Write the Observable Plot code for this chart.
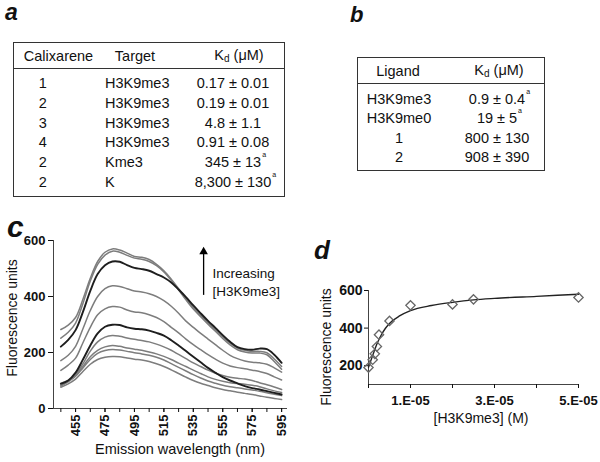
<!DOCTYPE html>
<html>
<head>
<meta charset="utf-8">
<script src="https://cdn.jsdelivr.net/npm/d3@7"></script>
<script src="https://cdn.jsdelivr.net/npm/@observablehq/plot@0.6"></script>
<style>
  html, body { margin: 0; padding: 0; background: #fff; }
  #fig { position: relative; width: 600px; height: 462px; font-family: "Liberation Sans", Arial, sans-serif; color: #111; overflow: hidden; }
  .t { position: absolute; white-space: nowrap; line-height: 1; }
  .box { position: absolute; box-sizing: border-box; border: 1.5px solid #333; }
  .sep { position: absolute; height: 1.5px; background: #333; }
  sub.kd { font-size: 10px; vertical-align: -2px; }
  .note { position: absolute; left: 100%; top: -3px; font-size: 7px; margin-left: 1px; }
</style>
</head>
<body>
<div id="fig"></div>
<script>
// ---------- Table a ----------
const calixarenes = ["1", "2", "3", "4", "2", "2"];
const targets = ["H3K9me3", "H3K9me3", "H3K9me3", "H3K9me3", "Kme3", "K"];
const kdA = ["0.17 ± 0.01", "0.19 ± 0.01", "4.8 ± 1.1", "0.91 ± 0.08", "345 ± 13", "8,300 ± 130"];
const kdANote = [false, false, false, false, true, true];

// ---------- Table b ----------
const ligands = ["H3K9me3", "H3K9me0", "1", "2"];
const kdB = ["0.9 ± 0.4", "19 ± 5", "800 ± 130", "908 ± 390"];
const kdBNote = [true, true, false, false];

// ---------- Panel c: emission spectra ----------
const wavelengths = [445,450,455,460,465,470,475,480,485,490,495,500,505,510,515,520,525,530,535,540,545,550,555,560,565,570,575,580,585,590,595];
const s1  = [282,298,325,390,465,525,558,570,566,555,543,540,532,515,492,462,428,393,360,333,306,281,256,233,216,208,204,204,199,177,150];
const s2  = [251,272,305,375,455,515,548,562,558,547,537,533,525,510,488,458,424,388,355,328,301,276,250,227,210,202,198,198,192,168,140];
const s3  = [221,245,280,345,420,480,512,525,524,512,502,498,492,480,468,450,425,398,368,340,313,288,262,238,219,212,210,214,212,192,163];
const s4  = [171,190,222,285,350,400,428,438,436,428,420,416,410,400,385,365,340,312,290,268,248,228,208,190,178,170,165,163,158,145,130];
const s5  = [136,155,180,235,290,335,356,364,362,352,345,342,335,325,310,290,270,248,228,210,192,176,162,152,146,142,137,132,125,113,102];
const s6  = [88,100,128,175,225,268,292,299,298,290,285,283,278,270,260,244,225,205,185,165,145,128,112,100,90,80,73,68,62,56,50];
const s7  = [82,98,120,160,205,238,255,261,258,252,247,243,238,230,220,208,193,178,163,150,137,126,118,112,108,105,100,92,85,77,68];
const s8  = [90,100,118,150,185,208,220,225,222,216,212,208,202,195,186,175,162,150,137,125,113,104,97,92,89,87,83,78,70,63,57];
const s9  = [80,95,115,145,175,197,207,211,209,204,199,195,190,183,173,160,147,134,121,109,98,90,83,78,74,70,66,62,56,51,46];
const s10 = [76,88,105,132,158,175,183,186,185,180,176,173,168,160,150,138,125,112,100,90,82,74,68,63,58,54,50,45,40,36,32];
const spectraNames = ["s1","s2","s3","s4","s5","s6","s7","s8","s9","s10"];
const spectraValues = [s1, s2, s3, s4, s5, s6, s7, s8, s9, s10];
const darkSpectra = ["s3", "s6"];
const cYTicks = [0, 200, 400, 600];
const cXMinorTicks = [445,455,465,475,485,495,505,515,525,535,545,555,565,575,585,595];
const cXLabelTicks = [455,475,495,515,535,555,575,595];
const annoLines = ["Increasing", "[H3K9me3]"];

// ---------- Panel d: titration ----------
const concM = [0, 1e-6, 1.5e-6, 2e-6, 2.5e-6, 5e-6, 1e-5, 2e-5, 2.5e-5, 5e-5];
const fluor = [190, 232, 263, 302, 365, 438, 521, 526, 553, 563];
const fitConc = [0, 1e-6, 2e-6, 3e-6, 4e-6, 5e-6, 7.5e-6, 1e-5, 1.5e-5, 2e-5, 2.5e-5, 3e-5, 4e-5, 5e-5];
const fitFluor = [192, 255, 315, 362, 398, 425, 466, 493, 520, 537, 550, 558, 569, 580];
const dYTicks = [200, 400, 600];
const dXTicks = [0, 1e-5, 2e-5, 3e-5, 4e-5, 5e-5];
const dXLabelTicks = [1e-5, 3e-5, 5e-5];
const dXLabels = ["1.E-05", "3.E-05", "5.E-05"];

// ---------- helpers ----------
const fig = document.getElementById("fig");
function addText(html, x, y, o = {}) {
  const el = document.createElement("div");
  el.className = "t";
  el.innerHTML = html;
  const size = o.size ?? 14.5;
  el.style.fontSize = size + "px";
  el.style.fontWeight = o.weight ?? "normal";
  el.style.fontStyle = o.style ?? "normal";
  el.style.left = x + "px";
  el.style.top = y + "px";
  const tx = o.anchor === "start" ? "0" : "-50%";
  el.style.transform = `translate(${tx}, -50%)` + (o.rotate ? ` rotate(${o.rotate}deg)` : "");
  fig.appendChild(el);
  return el;
}
function addLetter(ch, left, baseline, size) {
  const el = document.createElement("div");
  el.className = "t";
  el.textContent = ch;
  el.style.lineHeight = "0.75";
  el.style.fontSize = size + "px";
  el.style.fontWeight = "bold";
  el.style.fontStyle = "italic";
  el.style.left = left + "px";
  el.style.top = (baseline - 0.7215 * size) + "px";
  fig.appendChild(el);
}
function addBox(l, t, w, h, sepY) {
  const b = document.createElement("div");
  b.className = "box";
  Object.assign(b.style, {left: l + "px", top: t + "px", width: w + "px", height: h + "px"});
  fig.appendChild(b);
  const s = document.createElement("div");
  s.className = "sep";
  Object.assign(s.style, {left: l + "px", top: sepY + "px", width: w + "px"});
  fig.appendChild(s);
}
const kdHeader = 'K<sub class="kd">d</sub> (μM)';
const withNote = (v, n) => `<span style="position:relative">${v}${n ? '<span class="note">a</span>' : ""}</span>`;

// ---------- draw table a ----------
addBox(13, 42, 272, 155, 67.5);
addText("Calixarene", 58.5, 56);
addText("Target", 135, 56);
addText(kdHeader, 239, 56);
calixarenes.forEach((c, i) => {
  const y = 83.3 + i * 19.7;
  addText(c, 42.7, y);
  addText(targets[i], 105, y, {anchor: "start"});
  addText(withNote(kdA[i], kdANote[i]), 233, y);
});

// ---------- draw table b ----------
addBox(357, 57, 188, 114, 82.5);
addText("Ligand", 398, 71);
addText(kdHeader, 499, 71);
ligands.forEach((l, i) => {
  const y = 99.3 + i * 19.1;
  addText(l, 399, y);
  addText(withNote(kdB[i], kdBNote[i]), 497, y);
});

// ---------- panel c ----------
const rowsC = spectraNames.flatMap((name, k) =>
  wavelengths.map((wl, i) => ({wl, v: spectraValues[k][i], name})));
const arrowX = 542, arrowY1 = 404, arrowY2 = 556;
const plotC = Plot.plot({
  width: 300, height: 237,
  marginLeft: 53, marginRight: 13, marginTop: 15, marginBottom: 54,
  x: {domain: [440, 599]},
  y: {domain: [0, 600]},
  style: {fontFamily: "Liberation Sans, Arial, sans-serif", fontSize: "13px", fontWeight: "bold", color: "#111", background: "transparent", overflow: "visible"},
  marks: [
    Plot.line(rowsC.filter(d => !darkSpectra.includes(d.name)), {x: "wl", y: "v", z: "name", stroke: "#7d7d7d", strokeWidth: 1.5, curve: "catmull-rom"}),
    Plot.line(rowsC.filter(d => darkSpectra.includes(d.name)), {x: "wl", y: "v", z: "name", stroke: "#1e1e1e", strokeWidth: 1.9, curve: "catmull-rom"}),
    Plot.ruleX([440], {stroke: "#444", strokeWidth: 1}),
    Plot.ruleY([0], {stroke: "#444", strokeWidth: 1}),
    Plot.axisY({ticks: cYTicks, tickSize: 5, tickPadding: 3, label: null}),
    Plot.axisX({ticks: cXMinorTicks, tickSize: 4, tickFormat: () => "", label: null}),
    Plot.axisX({ticks: cXLabelTicks, tickSize: 4, tickPadding: 2, tickRotate: -90, label: null}),
    Plot.ruleX([arrowX], {y1: () => arrowY1, y2: () => arrowY2, stroke: "#000", strokeWidth: 1.3}),
    Plot.dot([arrowX], {x: d => d, y: () => arrowY2 + 4, symbol: "triangle", fill: "#000", stroke: "none", r: 3.2}),
    Plot.text(annoLines, {x: () => 548, y: (d, i) => [482, 418][i], text: d => d, textAnchor: "start", fontWeight: "normal", fontSize: 13.5})
  ]
});
plotC.style.position = "absolute";
plotC.style.left = "0px";
plotC.style.top = "225px";
fig.appendChild(plotC);

// ---------- panel d ----------
const rowsD = concM.map((c, i) => ({c, f: fluor[i]}));
const rowsFit = fitConc.map((c, i) => ({c, f: fitFluor[i]}));
const labelMap = new Map(dXLabelTicks.map((t, i) => [t, dXLabels[i]]));
const plotD = Plot.plot({
  width: 300, height: 187,
  marginLeft: 68, marginRight: 22, marginTop: 15, marginBottom: 78,
  x: {domain: [0, 5e-5]},
  y: {domain: [100, 600]},
  style: {fontFamily: "Liberation Sans, Arial, sans-serif", fontSize: "13px", fontWeight: "bold", color: "#111", background: "transparent", overflow: "visible"},
  marks: [
    Plot.ruleX([0], {stroke: "#444", strokeWidth: 1}),
    Plot.ruleY([100], {stroke: "#444", strokeWidth: 1}),
    Plot.axisY({ticks: dYTicks, tickSize: 4, tickPadding: 2, label: null, fontSize: 14}),
    Plot.axisX({ticks: dXTicks, tickSize: 4, tickFormat: () => "", label: null}),
    Plot.axisX({ticks: dXLabelTicks, tickSize: 0, tickPadding: 11, tickFormat: d => labelMap.get(d), label: null}),
    Plot.line(rowsFit, {x: "c", y: "f", stroke: "#222", strokeWidth: 1.4, curve: "monotone-x"}),
    Plot.dot(rowsD, {x: "c", y: "f", symbol: "diamond2", r: 4.2, stroke: "#666", strokeWidth: 1.3, fill: "none"})
  ]
});
plotD.style.position = "absolute";
plotD.style.left = "300px";
plotD.style.top = "275px";
fig.appendChild(plotD);

// ---------- axis titles ----------
addText("Fluorescence units", 12, 318, {size: 14, rotate: -90});
addText("Emission wavelength (nm)", 180, 449, {size: 14.5});
addText("Fluorescence units", 326, 347, {size: 14, rotate: -90});
addText("[H3K9me3] (M)", 481, 418, {size: 14});

// ---------- panel letters ----------
addLetter("a", 5, 21, 23);
addLetter("b", 350, 22.5, 22);
addLetter("c", 7, 238, 30);
addLetter("d", 314, 260, 26);
</script>
</body>
</html>
